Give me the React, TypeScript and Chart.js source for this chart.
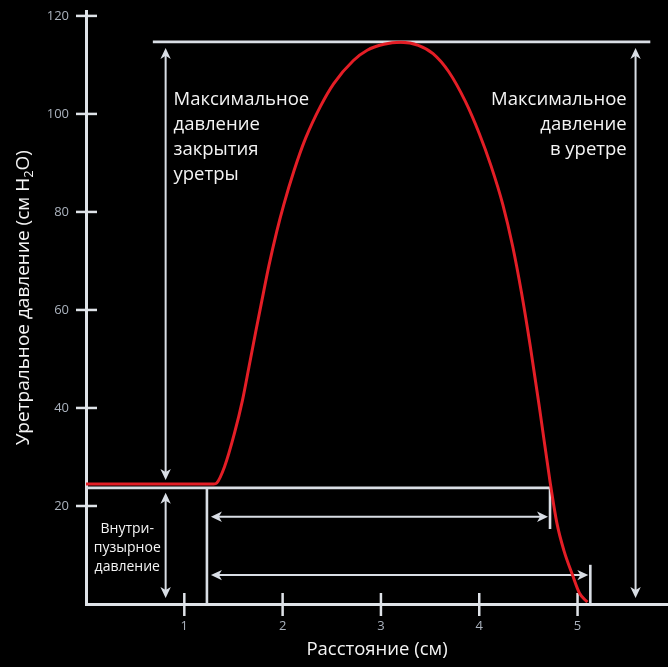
import React, { useEffect, useRef } from "react";
import { Chart, registerables } from "chart.js";

Chart.register(...registerables);

// ---- data -----------------------------------------------------------------
const distanceCm = [
  0, 1.3, 1.33, 1.409, 1.511, 1.592, 1.658, 1.724, 1.79, 1.86, 1.94, 2.012,
  2.114, 2.233, 2.386, 2.52, 2.72, 2.86, 3.03, 3.2, 3.38, 3.53, 3.69, 3.86,
  4.0, 4.12, 4.24, 4.34, 4.43, 4.52, 4.62, 4.72, 4.79, 4.86, 4.949, 5.02, 5.1,
];
const pressureCmH2O = [
  24.5, 24.5, 24.7, 28.0, 34.9, 41.6, 48.4, 55.3, 62.0, 69.0, 76.0, 81.5,
  88.3, 95.0, 101.6, 106.2, 110.9, 113.0, 114.2, 114.6, 114.0, 112.3, 108.6,
  102.5, 96.0, 89.4, 81.5, 73.0, 63.5, 52.5, 39.0, 25.0, 16.5, 11.0, 5.9, 2.2,
  0.4,
];
const xTickValues = [1, 2, 3, 4, 5];
const yTickValues = [20, 40, 60, 80, 100, 120];

const xAxisTitle = "Расстояние (см)";
const yAxisTitleParts = ["Уретральное давление (см H", "2", "O)"];
const leftLabel = ["Максимальное", "давление", "закрытия", "уретры"];
const rightLabel = ["Максимальное", "давление", "в уретре"];
const bladderLabel = ["Внутри-", "пузырное", "давление"];

// annotation levels (data units)
const maxPressureLevel = 114.7;
const bladderLevel = 23.7;
const closureStartX = 1.23;
const closureEndX = 4.72;
const profileEndX = 5.13;
const leftArrowX = 0.81;
const rightArrowX = 5.59;
const topLineFromX = 0.68;
const topLineToX = 5.74;
const closureArrowY = 17.8;
const lengthArrowY = 5.9;

// ---- styles ---------------------------------------------------------------
const FONT = "'Open Sans', 'DejaVu Sans', sans-serif";
const AXIS = "#dfe3e8";
const LINE = "#d9dee5";
const TICK_TEXT = "#aab2bd";
const TEXT = "#f4f4f4";
const RED = "#e41e26";

function arrowHead(ctx: CanvasRenderingContext2D, tx: number, ty: number, dx: number, dy: number) {
  const len = 11;
  const half = 5.2;
  const bx = tx - dx * len;
  const by = ty - dy * len;
  const nx = -dy;
  const ny = dx;
  const mx = tx - dx * len * 0.72;
  const my = ty - dy * len * 0.72;
  ctx.beginPath();
  ctx.moveTo(tx, ty);
  ctx.lineTo(bx + nx * half, by + ny * half);
  ctx.lineTo(mx, my);
  ctx.lineTo(bx - nx * half, by - ny * half);
  ctx.closePath();
  ctx.fill();
}

function doubleArrow(ctx: CanvasRenderingContext2D, x1: number, y1: number, x2: number, y2: number) {
  const L = Math.hypot(x2 - x1, y2 - y1);
  const dx = (x2 - x1) / L;
  const dy = (y2 - y1) / L;
  ctx.beginPath();
  ctx.moveTo(x1 + dx * 6, y1 + dy * 6);
  ctx.lineTo(x2 - dx * 6, y2 - dy * 6);
  ctx.stroke();
  arrowHead(ctx, x1, y1, -dx, -dy);
  arrowHead(ctx, x2, y2, dx, dy);
}

function seg(ctx: CanvasRenderingContext2D, x1: number, y1: number, x2: number, y2: number) {
  ctx.beginPath();
  ctx.moveTo(x1, y1);
  ctx.lineTo(x2, y2);
  ctx.stroke();
}

const overlayPlugin = {
  id: "overlay",
  beforeDatasetsDraw(chart: any) {
    const { ctx, scales } = chart;
    const xs = scales.x;
    const ys = scales.y;
    const px = (v: number) => xs.getPixelForValue(v);
    const py = (v: number) => ys.getPixelForValue(v);
    ctx.save();
    ctx.lineCap = "butt";

    // crossing tick marks
    ctx.strokeStyle = AXIS;
    ctx.lineWidth = 2.5;
    const ax = px(0);
    for (const t of yTickValues) seg(ctx, ax - 10, py(t), ax + 11, py(t));
    const ay = py(0);
    for (const t of xTickValues) seg(ctx, px(t), ay - 11, px(t), ay + 12);

    // reference lines
    ctx.strokeStyle = LINE;
    ctx.lineWidth = 2.6;
    seg(ctx, px(topLineFromX), py(maxPressureLevel), px(topLineToX), py(maxPressureLevel));
    seg(ctx, px(0), py(bladderLevel), px(closureEndX), py(bladderLevel));
    seg(ctx, px(closureEndX), py(bladderLevel), px(closureEndX), py(15.3));
    seg(ctx, px(closureStartX), py(bladderLevel), px(closureStartX), py(0));
    seg(ctx, px(profileEndX), py(0), px(profileEndX), py(8.0));

    // arrows
    ctx.lineWidth = 2;
    ctx.fillStyle = LINE;
    doubleArrow(ctx, px(leftArrowX), py(maxPressureLevel) + 6, px(leftArrowX), py(24.5) - 4);
    doubleArrow(ctx, px(rightArrowX), py(maxPressureLevel) + 6, px(rightArrowX), py(0) - 6);
    doubleArrow(ctx, px(leftArrowX), py(bladderLevel) + 5, px(leftArrowX), py(0) - 6);
    doubleArrow(ctx, px(closureStartX) + 4, py(closureArrowY), px(closureEndX) - 2, py(closureArrowY));
    doubleArrow(ctx, px(closureStartX) + 4, py(lengthArrowY), px(profileEndX) - 2, py(lengthArrowY));
    ctx.restore();
  },
  afterDraw(chart: any) {
    const { ctx, scales } = chart;
    const px = (v: number) => scales.x.getPixelForValue(v);
    const py = (v: number) => scales.y.getPixelForValue(v);
    ctx.save();
    ctx.fillStyle = TEXT;
    ctx.textBaseline = "alphabetic";
    ctx.font = `18.5px ${FONT}`;
    ctx.textAlign = "left";
    leftLabel.forEach((s, i) => ctx.fillText(s, px(0.89), py(101.8) + i * 25));
    ctx.textAlign = "right";
    rightLabel.forEach((s, i) => ctx.fillText(s, px(5.5), py(101.8) + i * 25));
    ctx.font = `14px ${FONT}`;
    ctx.textAlign = "center";
    bladderLabel.forEach((s, i) => ctx.fillText(s, px(0.42), py(14.5) + i * 19));

    // y axis title with subscript
    const big = `19px ${FONT}`;
    const small = `13px ${FONT}`;
    ctx.font = big;
    const w0 = ctx.measureText(yAxisTitleParts[0]).width;
    const w2 = ctx.measureText(yAxisTitleParts[2]).width;
    ctx.font = small;
    const w1 = ctx.measureText(yAxisTitleParts[1]).width;
    const total = w0 + w1 + w2;
    const cy = py(62.5);
    ctx.translate(29, cy);
    ctx.rotate(-Math.PI / 2);
    ctx.textAlign = "left";
    let x = -total / 2;
    ctx.font = big;
    ctx.fillText(yAxisTitleParts[0], x, 0);
    x += w0;
    ctx.font = small;
    ctx.fillText(yAxisTitleParts[1], x, 4);
    x += w1;
    ctx.font = big;
    ctx.fillText(yAxisTitleParts[2], x, 0);
    ctx.restore();
  },
};

export default function App() {
  const ref = useRef<HTMLCanvasElement | null>(null);

  useEffect(() => {
    if (!ref.current) return;
    const points = distanceCm.map((x, i) => ({ x, y: pressureCmH2O[i] }));
    const chart = new Chart(ref.current, {
      type: "line",
      data: {
        datasets: [
          {
            data: points,
            borderColor: RED,
            borderWidth: 3,
            pointRadius: 0,
            cubicInterpolationMode: "monotone",
            fill: false,
            clip: false,
          } as any,
        ],
      },
      options: {
        animation: false,
        responsive: false,
        events: [],
        layout: { padding: { top: 11, left: 0, right: 0, bottom: 0 } },
        plugins: { legend: { display: false }, tooltip: { enabled: false } },
        scales: {
          x: {
            type: "linear",
            min: 0,
            max: 5.92,
            position: "bottom",
            grid: { display: false, drawTicks: false },
            border: { display: true, color: AXIS, width: 3 },
            afterBuildTicks: (s: any) => {
              s.ticks = xTickValues.map((v) => ({ value: v }));
            },
            afterFit: (s: any) => {
              s.height = 63;
              s.paddingLeft = 0;
              s.paddingRight = 0;
            },
            ticks: {
              color: TICK_TEXT,
              padding: 14,
              font: { size: 13, family: FONT },
              maxRotation: 0,
            },
            title: {
              display: true,
              text: xAxisTitle,
              color: TEXT,
              font: { size: 18.5, family: FONT },
              padding: { top: 0, bottom: 6 },
            },
          },
          y: {
            type: "linear",
            min: 0,
            max: 121,
            grid: { display: false, drawTicks: false },
            border: { display: true, color: AXIS, width: 3 },
            afterBuildTicks: (s: any) => {
              s.ticks = yTickValues.map((v) => ({ value: v }));
            },
            afterFit: (s: any) => {
              s.width = 86;
              s.paddingTop = 0;
              s.paddingBottom = 0;
            },
            ticks: {
              color: TICK_TEXT,
              padding: 17,
              font: { size: 13, family: FONT },
            },
            title: { display: false },
          },
        },
      },
      plugins: [overlayPlugin],
    });
    return () => chart.destroy();
  }, []);

  return (
    <div
      style={{
        position: "absolute",
        left: 0,
        top: 0,
        width: 668,
        height: 667,
        background: "#000",
      }}
    >
      <canvas ref={ref} width={668} height={667} style={{ width: 668, height: 667, display: "block" }} />
    </div>
  );
}
